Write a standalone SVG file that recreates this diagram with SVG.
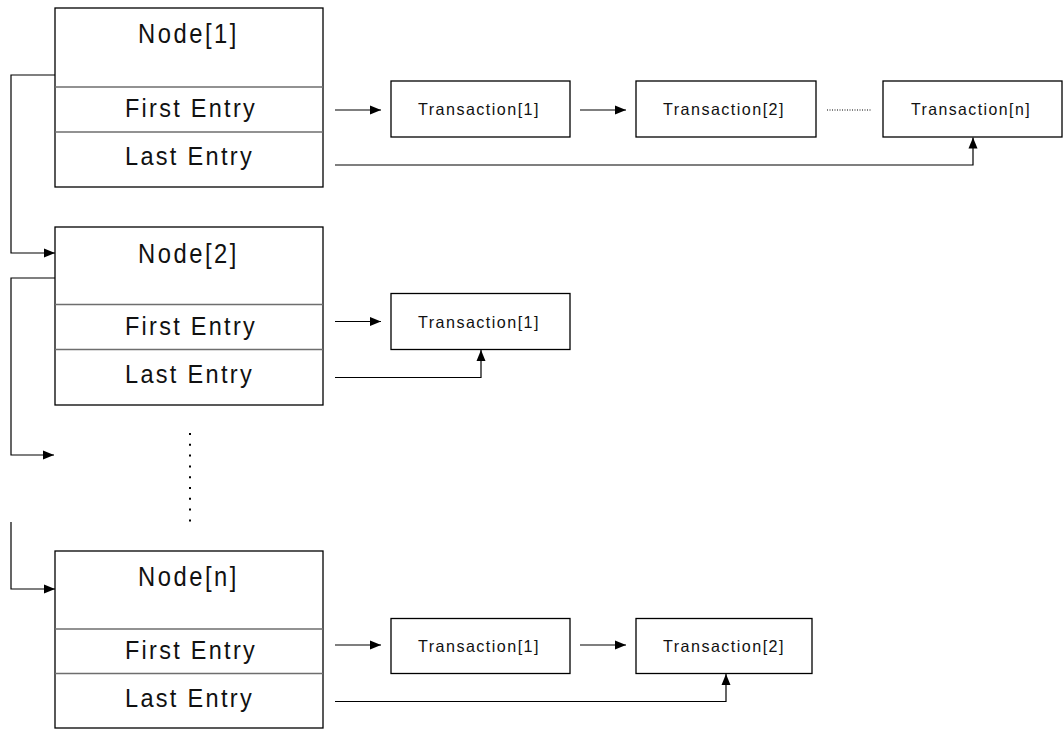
<svg xmlns="http://www.w3.org/2000/svg" width="1063" height="730" viewBox="0 0 1063 730">
  <style>
    .box { fill: #fff; stroke: #000; stroke-width: 1.3; }
    .div { stroke: #6e6e6e; stroke-width: 1.5; }
    .node-title { font-family: "Liberation Sans", Arial, sans-serif; font-size: 28px; letter-spacing: 3px; fill: #111; text-anchor: middle; }
    .entry { font-family: "Liberation Sans", Arial, sans-serif; font-size: 25.5px; letter-spacing: 2.5px; fill: #111; text-anchor: middle; }
    .tx { font-family: "Liberation Sans", Arial, sans-serif; font-size: 16.5px; letter-spacing: 1.5px; fill: #111; text-anchor: middle; }
    .arrow { fill: none; stroke: #000; stroke-width: 1.2; marker-end: url(#head); }
    .dots { fill: none; stroke: #000; stroke-width: 2; stroke-dasharray: 2 8.8; }
    .fine-dots { fill: none; stroke: #000; stroke-width: 1; stroke-dasharray: 1 1.5; }
  </style>
  <defs>
    <marker id="head" markerUnits="userSpaceOnUse" markerWidth="12" markerHeight="10" refX="11" refY="5" orient="auto">
      <path d="M0,0.5 L11,5 L0,9.5 z" fill="#000"/>
    </marker>
  </defs>
  <rect width="1063" height="730" fill="#fff"/>

  <!-- list nodes -->
  <g id="node1">
    <rect class="box" x="55" y="8" width="268" height="179"/>
    <line class="div" x1="55" y1="87" x2="323" y2="87"/>
    <line class="div" x1="55" y1="132" x2="323" y2="132"/>
    <text class="node-title" x="188.5" y="43" textLength="101" lengthAdjust="spacingAndGlyphs">Node[1]</text>
    <text class="entry" x="191" y="117" textLength="132" lengthAdjust="spacingAndGlyphs">First Entry</text>
    <text class="entry" x="189.5" y="165" textLength="129" lengthAdjust="spacingAndGlyphs">Last Entry</text>
  </g>
  <g id="node2">
    <rect class="box" x="55" y="227" width="268" height="178"/>
    <line class="div" x1="55" y1="304.5" x2="323" y2="304.5"/>
    <line class="div" x1="55" y1="349.5" x2="323" y2="349.5"/>
    <text class="node-title" x="188.5" y="263" textLength="101" lengthAdjust="spacingAndGlyphs">Node[2]</text>
    <text class="entry" x="191" y="335" textLength="132" lengthAdjust="spacingAndGlyphs">First Entry</text>
    <text class="entry" x="189.5" y="383" textLength="129" lengthAdjust="spacingAndGlyphs">Last Entry</text>
  </g>
  <g id="noden">
    <rect class="box" x="55" y="551" width="268" height="177"/>
    <line class="div" x1="55" y1="629" x2="323" y2="629"/>
    <line class="div" x1="55" y1="673.5" x2="323" y2="673.5"/>
    <text class="node-title" x="188.5" y="586" textLength="101" lengthAdjust="spacingAndGlyphs">Node[n]</text>
    <text class="entry" x="191" y="659" textLength="132" lengthAdjust="spacingAndGlyphs">First Entry</text>
    <text class="entry" x="189.5" y="707" textLength="129" lengthAdjust="spacingAndGlyphs">Last Entry</text>
  </g>

  <!-- transactions -->
  <g id="n1-tx1">
    <rect class="box" x="391" y="81" width="179" height="56"/>
    <text class="tx" x="479" y="115" textLength="122" lengthAdjust="spacingAndGlyphs">Transaction[1]</text>
  </g>
  <g id="n1-tx2">
    <rect class="box" x="636" y="81" width="180" height="56"/>
    <text class="tx" x="724" y="115" textLength="122" lengthAdjust="spacingAndGlyphs">Transaction[2]</text>
  </g>
  <g id="n1-txn">
    <rect class="box" x="883" y="81" width="179" height="56"/>
    <text class="tx" x="971" y="115" textLength="120" lengthAdjust="spacingAndGlyphs">Transaction[n]</text>
  </g>
  <g id="n2-tx1">
    <rect class="box" x="391" y="293.5" width="179" height="56"/>
    <text class="tx" x="479" y="327.5" textLength="122" lengthAdjust="spacingAndGlyphs">Transaction[1]</text>
  </g>
  <g id="nn-tx1">
    <rect class="box" x="391" y="618.5" width="179" height="55"/>
    <text class="tx" x="479" y="652" textLength="122" lengthAdjust="spacingAndGlyphs">Transaction[1]</text>
  </g>
  <g id="nn-tx2">
    <rect class="box" x="636" y="618.5" width="176" height="55"/>
    <text class="tx" x="724" y="652" textLength="122" lengthAdjust="spacingAndGlyphs">Transaction[2]</text>
  </g>

  <!-- connectors -->
  <g id="connectors">
    <polyline class="arrow" points="55,75 11,75 11,253 55,253"/>
    <polyline class="arrow" points="55,278 11,278 11,455 54,455"/>
    <polyline class="arrow" points="11,522 11,589 55,589"/>
    <line class="dots" x1="190" y1="433" x2="190" y2="522"/>

    <line class="arrow" x1="335" y1="110" x2="381" y2="110"/>
    <line class="arrow" x1="580" y1="110" x2="626" y2="110"/>
    <line class="fine-dots" x1="827" y1="110" x2="872" y2="110"/>
    <polyline class="arrow" points="335,165 973,165 973,137.5"/>

    <line class="arrow" x1="335" y1="321.5" x2="381" y2="321.5"/>
    <polyline class="arrow" points="335,377.5 481,377.5 481,350"/>

    <line class="arrow" x1="335" y1="645" x2="381" y2="645"/>
    <line class="arrow" x1="580" y1="645" x2="626" y2="645"/>
    <polyline class="arrow" points="335,701.5 726,701.5 726,674"/>
  </g>
</svg>
